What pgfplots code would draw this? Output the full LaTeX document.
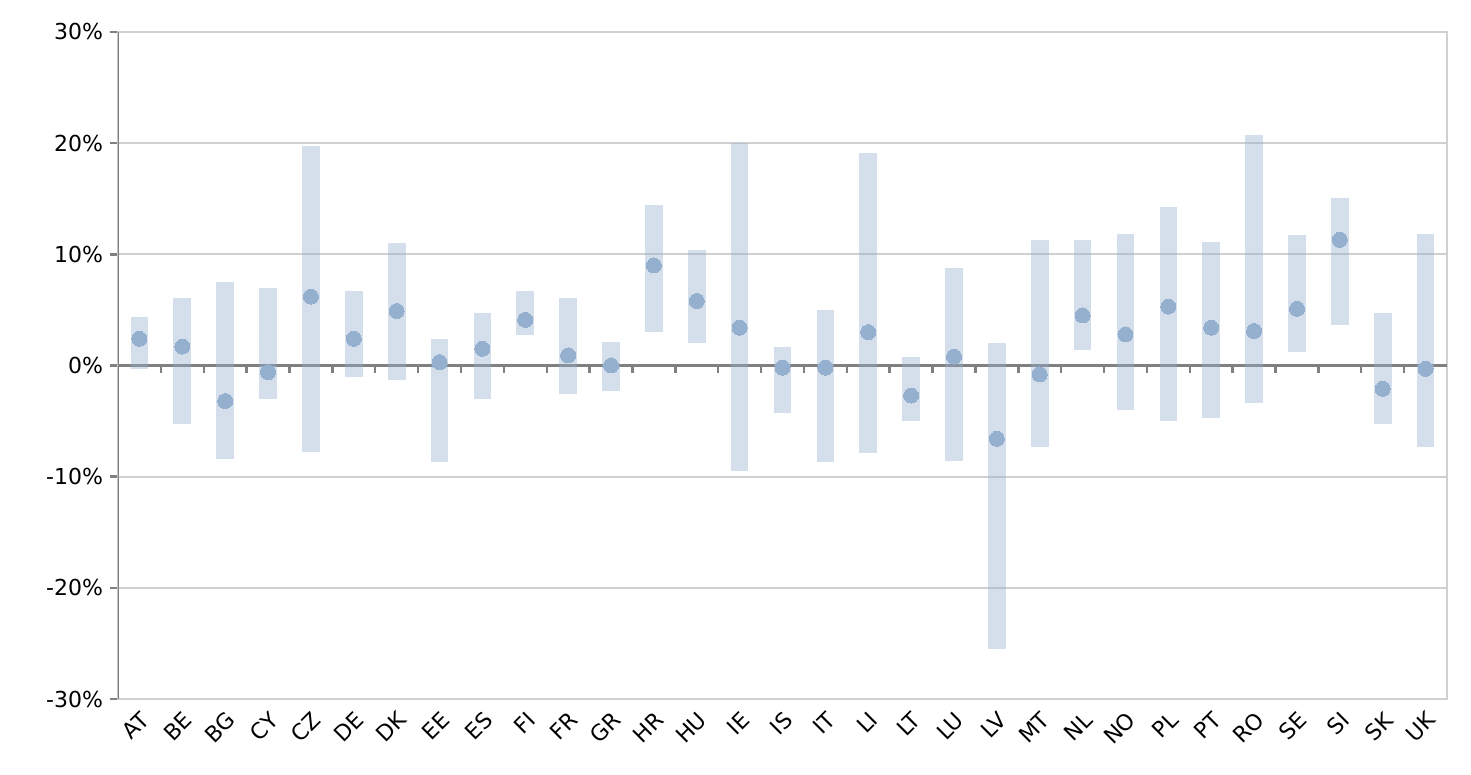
\documentclass[border=0pt]{standalone}
\usepackage{fontspec}
\setmainfont{DejaVu Sans}
\usepackage{pgfplots}
\pgfplotsset{compat=1.18}
\usepackage{pgfplotstable}
\definecolor{dotc}{RGB}{148,176,206}
\definecolor{axgray}{RGB}{128,128,128}
\definecolor{gridc}{RGB}{208,208,208}

\pgfplotstableread{
x name lo hi mid
0 AT -0.3 4.4 2.4
1 BE -5.3 6.1 1.7
2 BG -8.4 7.5 -3.2
3 CY -3.0 7.0 -0.6
4 CZ -7.8 19.7 6.2
5 DE -1.0 6.7 2.4
6 DK -1.3 11.0 4.9
7 EE -8.7 2.4 0.3
8 ES -3.0 4.7 1.5
9 FI 2.7 6.7 4.1
10 FR -2.6 6.1 0.9
11 GR -2.3 2.1 0.0
12 HR 3.0 14.4 9.0
13 HU 2.0 10.4 5.8
14 IE -9.5 20.0 3.4
15 IS -4.3 1.7 -0.2
16 IT -8.7 5.0 -0.2
17 LI -7.9 19.1 3.0
18 LT -5.0 0.8 -2.7
19 LU -8.6 8.8 0.8
20 LV -25.5 2.0 -6.6
21 MT -7.3 11.3 -0.8
22 NL 1.4 11.3 4.5
23 NO -4.0 11.8 2.8
24 PL -5.0 14.3 5.3
25 PT -4.7 11.1 3.4
26 RO -3.4 20.7 3.1
27 SE 1.2 11.7 5.1
28 SI 3.6 15.1 11.3
29 SK -5.3 4.7 -2.1
30 UK -7.3 11.8 -0.3
}\data

\begin{document}
\begin{tikzpicture}
\begin{axis}[
  scale only axis,
  width=664.5pt, height=333.5pt,
  xmin=-0.5, xmax=30.5, ymin=-30, ymax=30,
  ytick={-30,-20,...,30},
  yticklabels={-30\%,-20\%,-10\%,0\%,10\%,20\%,30\%},
  xtick={0,...,30},
  xticklabels={AT,BE,BG,CY,CZ,DE,DK,EE,ES,FI,FR,GR,HR,HU,IE,IS,IT,LI,LT,LU,LV,MT,NL,NO,PL,PT,RO,SE,SI,SK,UK},
  tick label style={font=\fontsize{11}{13}\selectfont, text=black},
  x tick label style={rotate=45, anchor=north east, inner sep=1pt},
  ymajorgrids,
  grid style={gridc, line width=0.9pt},
  axis line style={gridc, line width=0.8pt},
  x tick style={draw=none},
  y tick style={axgray, line width=1.2pt},
  tick align=outside,
  ytick pos=left, xtick pos=bottom,
  major tick length=4pt,
  extra y ticks={0}, extra y tick labels={},
  extra y tick style={grid style={axgray, line width=1.5pt}, tick style={draw=none}},
]
\pgfplotsinvokeforeach{0.5,1.5,2.5,3.5,4.5,5.5,6.5,7.5,8.5,9.5,10.5,11.5,12.5,13.5,14.5,15.5,16.5,17.5,18.5,19.5,20.5,21.5,22.5,23.5,24.5,25.5,26.5,27.5,28.5,29.5}{
  \draw[axgray, line width=1.2pt] (axis cs:#1,0) -- ([yshift=-4pt]axis cs:#1,0);
}
\addplot[draw=none, mark=none, forget plot,
  error bars/.cd, y dir=both, y explicit, error mark=none,
  error bar style={line width=8.85pt, dotc, draw opacity=0.4}]
  table[x=x, y expr={(\thisrow{hi}+\thisrow{lo})/2}, y error expr={(\thisrow{hi}-\thisrow{lo})/2}]{\data};
\addplot[only marks, color=dotc, mark=*, mark size=3.75pt, mark options={fill=dotc, draw=dotc, line width=0pt}]
  table[x=x, y=mid]{\data};
\draw[axgray, line width=1.4pt] (rel axis cs:0,0) -- (rel axis cs:0,1);
\coordinate (bl) at (rel axis cs:0,0);
\coordinate (tr) at (rel axis cs:1,1);
\end{axis}
\path (bl) ++(-59pt,-38pt) (tr) ++(12pt,16pt);
\end{tikzpicture}
\end{document}
